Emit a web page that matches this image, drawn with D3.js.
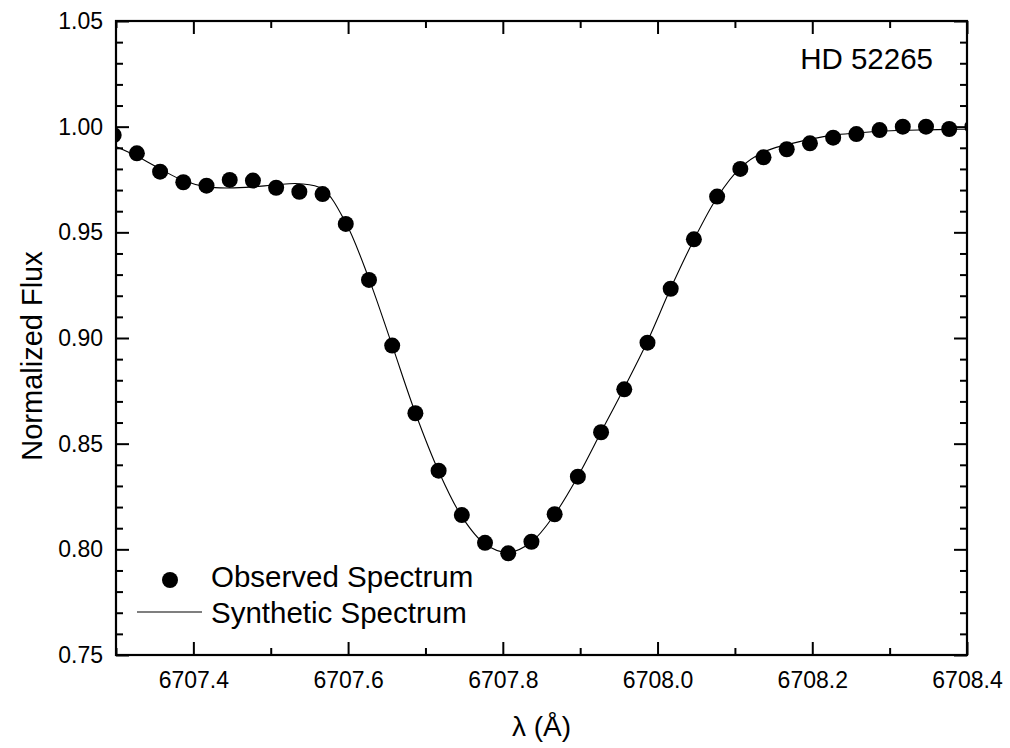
<!DOCTYPE html>
<html>
<head>
<meta charset="utf-8">
<script src="https://cdn.jsdelivr.net/npm/d3@7"></script>
<style>
  html, body { margin: 0; padding: 0; background: #fff; }
  svg { display: block; }
</style>
</head>
<body>
<div id="chart"></div>
<script>
// wavelength grid (Å)
const wavelength = [6707.297, 6707.327, 6707.357, 6707.387, 6707.417, 6707.447, 6707.477, 6707.507,
    6707.537, 6707.567, 6707.597, 6707.627, 6707.657, 6707.687, 6707.717, 6707.747, 6707.777,
    6707.807, 6707.837, 6707.867, 6707.897, 6707.927, 6707.957, 6707.987, 6708.017, 6708.047,
    6708.077, 6708.107, 6708.137, 6708.167, 6708.197, 6708.227, 6708.257, 6708.287, 6708.317,
    6708.347, 6708.377, 6708.407];

// observed normalized flux
const observed = [0.996, 0.9874, 0.9787, 0.9737, 0.9721, 0.9748, 0.9745, 0.9711, 0.9692, 0.9681,
    0.954, 0.9275, 0.8964, 0.8644, 0.8372, 0.8162, 0.8031, 0.7981, 0.8036, 0.8166, 0.8344,
    0.8554, 0.8757, 0.8978, 0.9233, 0.9467, 0.9669, 0.980, 0.9855, 0.9893, 0.9921, 0.9948,
    0.9965, 0.9984, 1.000, 1.000, 0.9989, 1.000];

// synthetic spectrum
const synthetic = [0.991, 0.986, 0.980, 0.9745, 0.9715, 0.971, 0.9715, 0.9725, 0.973, 0.9705,
    0.9545, 0.928, 0.8965, 0.8645, 0.837, 0.8155, 0.8025, 0.7985, 0.8035, 0.8165, 0.8345,
    0.8555, 0.8765, 0.8985, 0.9235, 0.9465, 0.9665, 0.9805, 0.988, 0.9915, 0.994, 0.996,
    0.997, 0.9978, 0.9983, 0.9985, 0.9987, 0.9988];

const xTicks = [6707.4, 6707.6, 6707.8, 6708.0, 6708.2, 6708.4];
const xMinor = [6707.3, 6707.5, 6707.7, 6707.9, 6708.1, 6708.3];
const yTicks = [0.75, 0.80, 0.85, 0.90, 0.95, 1.00, 1.05];

const width = 1010, height = 748;
const margin = { top: 21, right: 43, bottom: 93, left: 116 };
const fontFamily = "'Liberation Sans', Arial, sans-serif";

const svg = d3.select("#chart")
    .append("svg")
    .attr("width", width)
    .attr("height", height)
    .attr("viewBox", `0 0 ${width} ${height}`);

const x = d3.scaleLinear()
    .domain([6707.3, 6708.4])
    .range([margin.left, width - margin.right]);

const y = d3.scaleLinear()
    .domain([0.75, 1.05])
    .range([height - margin.bottom, margin.top]);

// clip to plot box
svg.append("clipPath")
    .attr("id", "plot-clip")
    .append("rect")
    .attr("x", x.range()[0])
    .attr("y", y.range()[1])
    .attr("width", x.range()[1] - x.range()[0])
    .attr("height", y.range()[0] - y.range()[1]);

const plot = svg.append("g").attr("clip-path", "url(#plot-clip)");

// synthetic line
const line = d3.line()
    .x((d, i) => x(wavelength[i]))
    .y(d => y(d))
    .curve(d3.curveCatmullRom.alpha(0.5));

plot.append("path")
    .datum(synthetic)
    .attr("d", line)
    .attr("fill", "none")
    .attr("stroke", "#000")
    .attr("stroke-width", 1.1);

// observed points
plot.selectAll("circle.obs")
    .data(observed)
    .join("circle")
    .attr("class", "obs")
    .attr("cx", (d, i) => x(wavelength[i]))
    .attr("cy", d => y(d))
    .attr("r", 8)
    .attr("fill", "#000");

// axes: ticks point inward on all four sides
const majorLen = 13, minorLen = 7;
const yMinor = yTicks.slice(0, -1).flatMap(v => [1, 2, 3, 4].map(k => +(v + k * 0.01).toFixed(2)));

const xAxisBottom = d3.axisBottom(x).tickValues(xTicks).tickFormat(d3.format(".1f")).tickSizeInner(-majorLen).tickSizeOuter(0).tickPadding(17);
const xAxisBottomMinor = d3.axisBottom(x).tickValues(xMinor).tickFormat("").tickSizeInner(-minorLen).tickSizeOuter(0);
const xAxisTop = d3.axisTop(x).tickValues(xTicks).tickFormat("").tickSizeInner(-majorLen).tickSizeOuter(0);
const xAxisTopMinor = d3.axisTop(x).tickValues(xMinor).tickFormat("").tickSizeInner(-minorLen).tickSizeOuter(0);

const yAxisLeft = d3.axisLeft(y).tickValues(yTicks).tickFormat(d3.format(".2f")).tickSizeInner(-majorLen).tickSizeOuter(0).tickPadding(13);
const yAxisLeftMinor = d3.axisLeft(y).tickValues(yMinor).tickFormat("").tickSizeInner(-minorLen).tickSizeOuter(0);
const yAxisRight = d3.axisRight(y).tickValues(yTicks).tickFormat("").tickSizeInner(-majorLen).tickSizeOuter(0);
const yAxisRightMinor = d3.axisRight(y).tickValues(yMinor).tickFormat("").tickSizeInner(-minorLen).tickSizeOuter(0);

const bottomY = y.range()[0], topY = y.range()[1];
const leftX = x.range()[0], rightX = x.range()[1];

const axes = [
    [xAxisBottomMinor, `translate(0,${bottomY})`],
    [xAxisBottom, `translate(0,${bottomY})`],
    [xAxisTopMinor, `translate(0,${topY})`],
    [xAxisTop, `translate(0,${topY})`],
    [yAxisLeftMinor, `translate(${leftX},0)`],
    [yAxisLeft, `translate(${leftX},0)`],
    [yAxisRightMinor, `translate(${rightX},0)`],
    [yAxisRight, `translate(${rightX},0)`]
];

axes.forEach(([ax, tr]) => {
    const g = svg.append("g").attr("transform", tr).call(ax);
    g.select(".domain").remove();
    g.selectAll(".tick line").attr("stroke", "#000").attr("stroke-width", 2);
    g.selectAll(".tick text")
        .attr("fill", "#000")
        .attr("font-family", fontFamily)
        .attr("font-size", "23px");
});

// frame
svg.append("rect")
    .attr("x", leftX)
    .attr("y", topY)
    .attr("width", rightX - leftX)
    .attr("height", bottomY - topY)
    .attr("fill", "none")
    .attr("stroke", "#000")
    .attr("stroke-width", 2.2);

// axis titles
svg.append("text")
    .attr("x", (leftX + rightX) / 2)
    .attr("y", 736)
    .attr("text-anchor", "middle")
    .attr("font-family", fontFamily)
    .attr("font-size", "28px")
    .attr("fill", "#000")
    .text("λ (Å)");

svg.append("text")
    .attr("transform", `translate(42,${(topY + bottomY) / 2 + 18}) rotate(-90)`)
    .attr("text-anchor", "middle")
    .attr("font-family", fontFamily)
    .attr("font-size", "29px")
    .attr("fill", "#000")
    .text("Normalized Flux");

// star label
svg.append("text")
    .attr("x", 933)
    .attr("y", 69)
    .attr("text-anchor", "end")
    .attr("font-family", fontFamily)
    .attr("font-size", "29.5px")
    .attr("fill", "#000")
    .text("HD 52265");

// legend
const legend = svg.append("g").attr("font-family", fontFamily).attr("font-size", "29.5px");
legend.append("circle").attr("cx", 170).attr("cy", 580).attr("r", 8).attr("fill", "#000");
legend.append("text").attr("x", 211).attr("y", 587).attr("fill", "#000").text("Observed Spectrum");
legend.append("line")
    .attr("x1", 137).attr("x2", 202)
    .attr("y1", 612).attr("y2", 612)
    .attr("stroke", "#000").attr("stroke-width", 1.1);
legend.append("text").attr("x", 211).attr("y", 623).attr("fill", "#000").text("Synthetic Spectrum");
</script>
</body>
</html>
